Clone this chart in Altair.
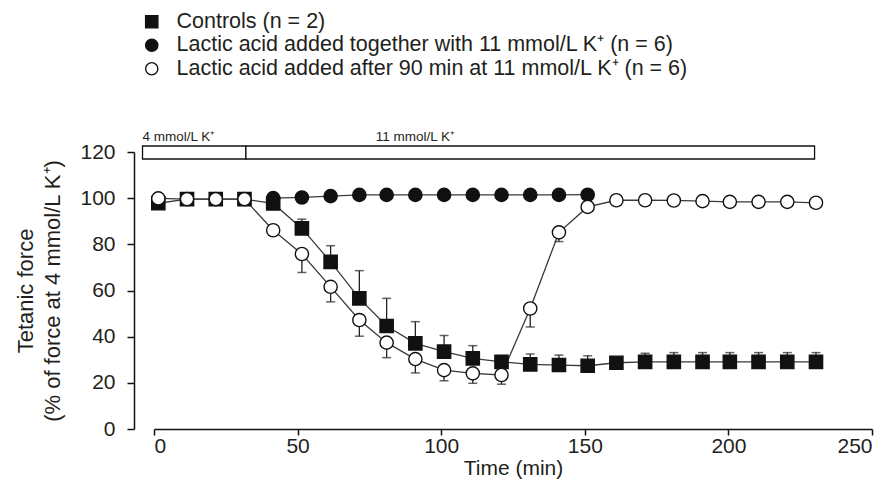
import altair as alt
import pandas as pd

# Sampling times (min)
times = [1.5, 11.5, 21.5, 31.5, 41.5, 51.5, 61.5, 71.5, 81, 91, 101, 111,
         121, 131, 141, 151, 161, 171, 181, 191, 200.5, 210.5, 220.5, 230.5]

# Controls: mean tetanic force and SEM (drawn upward)
control_force = [97.8, 99.6, 99.6, 99.6, 97.7, 86.9, 72.4, 56.6, 44.6, 37.1, 33.5, 30.6,
                 29.1, 28.0, 27.7, 27.4, 28.7, 29.1, 29.1, 29.1, 29.1, 29.1, 29.1, 29.1]
control_sem = [0, 0, 0, 0, 0, 4, 7, 12, 12, 9.4, 7, 5.5,
               0, 4.5, 4.3, 4.3, 0, 3.7, 4, 4, 4, 4, 4, 4]

# Lactic acid added together with 11 mmol/L K+
together_times = [41.5, 51.5, 61.5, 71.5, 81, 91, 101, 111, 121, 131, 141, 151]
together_force = [100.0, 100.3, 100.9, 101.4, 101.4, 101.4, 101.4, 101.4, 101.4, 101.4, 101.4, 101.5]

# Lactic acid added after 90 min at 11 mmol/L K+: mean and SEM (drawn downward)
after_force = [99.9, 99.6, 99.6, 99.6, 86.1, 75.8, 61.6, 47.2, 37.4, 30.3, 25.5, 24.1,
               23.4, 52.2, 85.2, 96.2, 99.1, 99.1, 99.0, 98.7, 98.4, 98.4, 98.4, 98.0]
after_sem = [0, 0, 0, 0, 0, 8, 6.5, 7, 6.5, 6, 4.6, 4.3,
             4, 8, 4, 0, 0, 0, 0, 0, 0, 0, 0, 0]

series_names = [
    "Controls (n = 2)",
    "Lactic acid added together with 11 mmol/L K\u207a (n = 6)",
    "Lactic acid added after 90 min at 11 mmol/L K\u207a (n = 6)",
]
series_shapes = ["square", "circle", "circle"]
series_fills = ["#111111", "#111111", "#ffffff"]
series_strokes = ["#111111", "#111111", "#111111"]

# Protocol bar along the top
phase_labels = ["4 mmol/L K\u207a", "11 mmol/L K\u207a"]
phase_start = [-4, 32]
phase_end = [32, 230]
phase_label_x = [-4, 91]

FONT = "Liberation Sans"
INK = "#231f20"

rows = []
for t, f, e in zip(times, control_force, control_sem):
    rows.append(dict(time=t, force=f, lo=f, hi=f + e, cap=f + e, err=e, series=series_names[0]))
for t, f in zip(together_times, together_force):
    rows.append(dict(time=t, force=f, lo=f, hi=f, cap=f, err=0, series=series_names[1]))
for t, f, e in zip(times, after_force, after_sem):
    rows.append(dict(time=t, force=f, lo=f - e, hi=f, cap=f - e, err=e, series=series_names[2]))
df = pd.DataFrame(rows)

phases = pd.DataFrame(dict(start=phase_start, end=phase_end, label=phase_labels, lx=phase_label_x))

x_scale = alt.Scale(domain=[0, 250], nice=False, zero=False)
y_scale = alt.Scale(domain=[0, 120], nice=False)

x_enc = alt.X("time:Q", scale=x_scale,
              axis=alt.Axis(values=[0, 50, 100, 150, 200, 250], title="Time (min)",
                            tickSize=6, labelPadding=0, titlePadding=1, grid=False))
y_enc = alt.Y("force:Q", scale=y_scale,
              axis=alt.Axis(values=[0, 20, 40, 60, 80, 100, 120],
                            title=["Tetanic force", "(% of force at 4 mmol/L K\u207a)"],
                            titleFontSize=22,
                            offset=20, tickSize=7, labelPadding=12, titlePadding=15, grid=False))

legend = alt.Legend(orient="none", legendX=-13, legendY=-141, title=None)
shape_enc = alt.Shape("series:N", scale=alt.Scale(domain=series_names, range=series_shapes), legend=legend)
fill_enc = alt.Fill("series:N", scale=alt.Scale(domain=series_names, range=series_fills), legend=legend)
stroke_enc = alt.Stroke("series:N", scale=alt.Scale(domain=series_names, range=series_strokes), legend=legend)

base = alt.Chart(df)

lines = base.mark_line(color="#3a3a3a", strokeWidth=1.3).encode(
    x=x_enc, y=y_enc, detail="series:N")

errs = base.transform_filter("datum.err > 0")
err_rules = errs.mark_rule(color="#222222", strokeWidth=1.3).encode(
    x="time:Q", y="lo:Q", y2="hi:Q")
err_caps = errs.mark_tick(color="#222222", orient="horizontal", thickness=1.5, size=9).encode(
    x="time:Q", y="cap:Q")

def points(name):
    return base.transform_filter(alt.datum.series == name).mark_point(
        filled=True, size=175, strokeWidth=1.4, opacity=1
    ).encode(x="time:Q", y="force:Q", shape=shape_enc, fill=fill_enc, stroke=stroke_enc)

pts_together = points(series_names[1])
pts_control = points(series_names[0])
pts_after = points(series_names[2])

phase_box = alt.Chart(phases).mark_rect(
    fill="white", stroke="#111111", strokeWidth=1.3, clip=False
).encode(x="start:Q", x2="end:Q", y=alt.value(-6), y2=alt.value(7))

phase_text_left = alt.Chart(phases).transform_filter(alt.datum.label == phase_labels[0]).mark_text(
    align="left", baseline="middle", fontSize=13.5, font=FONT, color=INK
).encode(x="lx:Q", y=alt.value(-15), text="label:N")
phase_text_mid = alt.Chart(phases).transform_filter(alt.datum.label == phase_labels[1]).mark_text(
    align="center", baseline="middle", fontSize=13.5, font=FONT, color=INK
).encode(x="lx:Q", y=alt.value(-15), text="label:N")

chart = alt.layer(
    lines, err_rules, err_caps, pts_together, pts_control, pts_after,
    phase_box, phase_text_left, phase_text_mid
).properties(
    width=718, height=277,
    autosize=alt.AutoSizeParams(type="none"),
    padding={"left": 154, "top": 152, "right": 21, "bottom": 75},
).configure_view(stroke=None).configure_axis(
    labelFont=FONT, titleFont=FONT, labelFontSize=21, titleFontSize=21,
    titleFontWeight="normal", labelColor=INK, titleColor=INK,
    domainColor="#111111", tickColor="#111111", domainWidth=1.5, tickWidth=1.5,
    titleLineHeight=27,
).configure_legend(
    labelFont=FONT, labelFontSize=21.5, labelColor=INK, symbolSize=150,
    symbolStrokeWidth=1.4, rowPadding=0.5,
    labelOffset=14, labelLimit=0,
)

chart.save("out.html", embed_options={"renderer": "svg", "actions": False})
